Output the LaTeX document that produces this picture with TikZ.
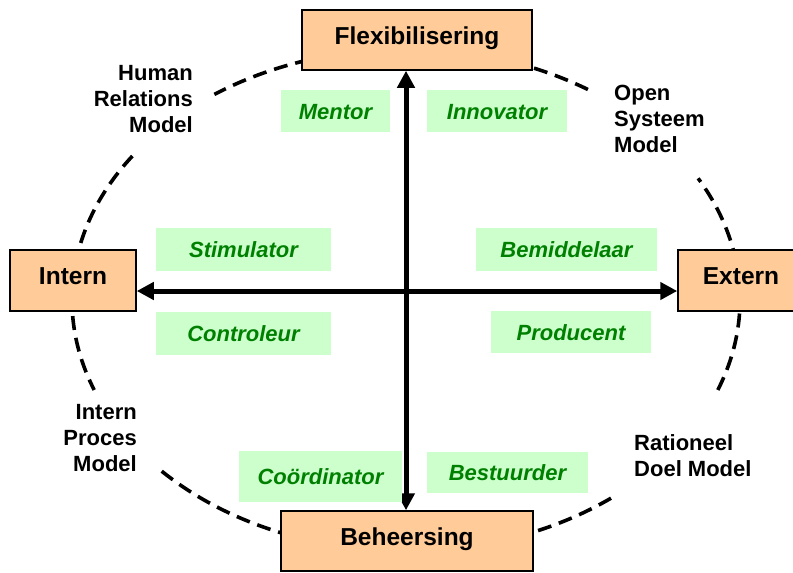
\documentclass[tikz,border=0pt]{standalone}
\usepackage{fontspec}
\setmainfont{Liberation Sans}
\usetikzlibrary{arrows.meta}

\definecolor{peach}{HTML}{FFCC99}
\definecolor{mint}{HTML}{CCFFCC}
\definecolor{leaf}{HTML}{008000}

\begin{document}
\begin{tikzpicture}[
    x=1pt, y=-1pt,
    pole/.style={draw, line width=1.5pt, fill=peach, inner sep=0pt, text height=16pt, text depth=8pt, font=\fontsize{24.5}{29}\selectfont\bfseries},
    role/.style={fill=mint, inner sep=0pt, text height=16pt, text depth=0pt, text=leaf, font=\fontsize{22}{26}\selectfont\bfseries\itshape},
    model/.style={inner sep=0pt, font=\fontsize{22}{26}\selectfont\bfseries},
    axis/.style={line width=5pt, -{Triangle[length=17pt,width=17pt]}},
    rim/.style={line width=3.6pt, dash pattern=on 14pt off 8pt}
]
\useasboundingbox (0,0) rectangle (793,573);

% dashed ring, open where the model labels sit
\foreach \a/\b in {57/125, 145/201, 223/309, 339/389}
  \draw[rim] ([shift={(\a:334pt and 251pt)}]406,300) arc[start angle=\a, end angle=\b, x radius=334pt, y radius=251pt];

\node[pole, minimum width=230pt, minimum height=60pt] (flex) at (417,40) {Flexibilisering};
\node[pole, minimum width=126pt, minimum height=61pt] (intern) at (73,280.5) {Intern};
\node[pole, minimum width=126pt, minimum height=61pt] (extern) at (741,280.5) {Extern};
\node[pole, minimum width=252pt, minimum height=60pt] (beh) at (407,541) {Beheersing};

\coordinate (mid) at (406,291);
\draw[axis] (mid) -- (mid |- flex.south);
\draw[axis] (mid) -- (mid |- beh.north);
\draw[axis] (mid) -- (mid -| intern.east);
\draw[axis] (mid) -- (mid -| extern.west);

\node[role, minimum width=109pt, minimum height=42pt] (mentor) at (335.5,111) {Mentor};
\node[role, minimum width=140pt, minimum height=42pt] (innov) at (497,111) {Innovator};
\node[role, minimum width=175pt, minimum height=43pt] (stim) at (243.5,249.5) {Stimulator};
\node[role, minimum width=175pt, minimum height=43pt] (contr) at (243.5,333.5) {Controleur};
\node[role, minimum width=181pt, minimum height=43pt] (bemid) at (566.5,249.5) {Bemiddelaar};
\node[role, minimum width=160pt, minimum height=42pt] (prod) at (571,332) {Producent};
\node[role, minimum width=163pt, minimum height=51pt] (coord) at (320.5,476.5) {Coördinator};
\node[role, minimum width=161pt, minimum height=41pt] (bestuur) at (507.5,472.5) {Bestuurder};

\node[model, align=right, anchor=north east] (humrel) at (193,65) {Human\\Relations\\Model};
\node[model, align=left, anchor=north west] (opensys) at (614,85) {Open\\Systeem\\Model};
\node[model, align=right, anchor=north east] (intproc) at (137,404) {Intern\\Proces\\Model};
\node[model, align=left, anchor=north west] (ratdoel) at (634,434) {Rationeel\\Doel Model};
\end{tikzpicture}
\end{document}
